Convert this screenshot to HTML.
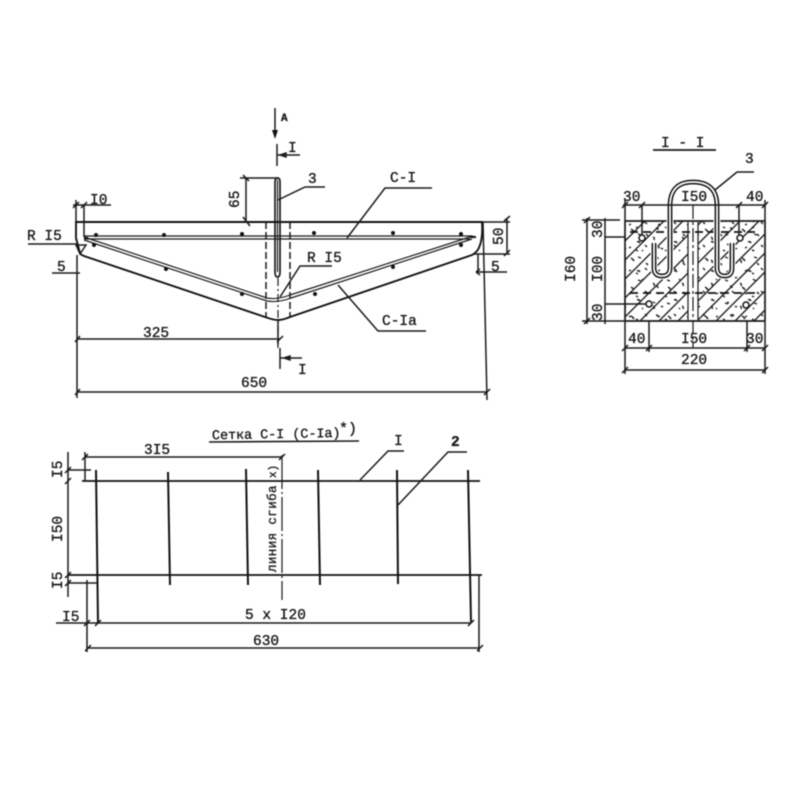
<!DOCTYPE html>
<html><head><meta charset="utf-8"><style>
html,body{margin:0;padding:0;background:#fff}
svg{display:block;filter:blur(.4px)}
text{font-family:"Liberation Mono","DejaVu Sans Mono",monospace;font-size:14.500px;fill:#1a1a1a;stroke:#1a1a1a;stroke-width:.35px}
.l{fill:none;stroke:#1a1a1a;stroke-width:1.500}
.t{fill:none;stroke:#111;stroke-width:2.100}
.f{fill:none;stroke:#1a1a1a;stroke-width:1.200}
</style></head><body>
<svg width="800" height="800" viewBox="0 0 800 800" xmlns="http://www.w3.org/2000/svg">
<defs>
<pattern id="h" width="19" height="19" patternUnits="userSpaceOnUse" patternTransform="translate(626 221)">
<path d="M-2 21L21 -2M-2 2L2 -2M17 21L21 17" stroke="#222" stroke-width="1.400" fill="none"/>
</pattern>
<pattern id="s" width="37" height="29" patternUnits="userSpaceOnUse" patternTransform="translate(628 225)">
<path d="M3 4q2 1 3 3M18 9l2 2M28 3q2 0 2 2M9 17q2 -1 3 1M25 19l2 1M33 24q1 -1 2 0M14 25l1 1" stroke="#222" stroke-width="1.500" fill="none"/>
</pattern>
<pattern id="s2" width="29" height="23" patternUnits="userSpaceOnUse" patternTransform="translate(633 231)">
<path d="M5 3l3 1M20 6q2 1 1 3M12 14l2 2M25 17l2 -1M3 19l2 1" stroke="#222" stroke-width="1.400" fill="none"/>
</pattern>
<clipPath id="c"><rect x="625" y="221" width="140" height="100"/></clipPath>
</defs>

<!-- Elevation beam -->
<path class="t" d="M76 222H482Q483 236 480 245Q478 252 472 255L290 317Q283 320 278 320Q274 320 268 318L84 256Q81 255 80 253L76 238Z" style="stroke-width:1.900"/>
<path class="f" d="M84 236H472M84 239H470"/>
<path class="f" d="M84 237L267 298Q277 300 290 295L473 236M84 240L267 301Q278 303 291 298L472 239"/>
<path class="t" d="M84 238H88" />
<path class="t" d="M470 237H476" />
<path d="M266 222V317M290 222V317" class="l" stroke-dasharray="7 3"/>
<path class="f" d="M275 182Q275 178 277.500 178Q280 178 280 182V272Q280 277 277.500 277Q275 277 275 272Z" style="stroke-width:1.700"/>
<path class="f" d="M277.500 180V272"/>
<path d="M278 278V348" class="f" stroke-dasharray="8 3 2 3"/>
<g fill="#111">
<circle cx="96" cy="235" r="2"/><circle cx="164" cy="235" r="2"/><circle cx="242" cy="234" r="2"/><circle cx="314" cy="233" r="2"/><circle cx="393" cy="233" r="2"/><circle cx="461" cy="234" r="2"/>
<circle cx="94" cy="245" r="2"/><circle cx="166" cy="269" r="2"/><circle cx="242" cy="294" r="2"/><circle cx="315" cy="294" r="2"/><circle cx="393" cy="267" r="2"/><circle cx="461" cy="245" r="2"/>
</g>

<!-- Elevation dimensions -->
<path class="l" d="M275 108V136"/><path d="M272 130L275 139L278 130Z" fill="#111"/>
<path class="l" d="M277 144V166M277 155H300M280 155l6 -2v4z"/>
<path class="l" d="M280 348V369M280 358H302M284 358l6 -2v4z"/>
<path class="l" d="M240 178H278M246 178V222M243 217L250 226M243 175L249 181"/>
<path class="l" d="M73 205H111M76 200V240M84 205V237M73 208L79 202M81 208L87 202"/>
<path class="l" d="M28 244H76L80 253M76 245H86L80 254Z"/>
<path class="l" d="M52 273H80M77 255V398"/>
<path class="l" d="M75 342L80 336M75 395L80 389M277 342L283 336M484 395L490 389"/>
<path class="l" d="M77 339H280M77 392H487M278 320V345M483 222L487 400"/>
<path class="l" d="M483 222H510M473 254H510M507 218V254M504 221L510 216M504 256L510 250"/>
<path class="l" d="M478 254V272M476 272H507M476 272l4 -3M476 272l4 3"/>
<path class="l" d="M278 200L305 187H325"/>
<path class="l" d="M347 238L385 188H432"/>
<path class="l" d="M338 285L378 331H426"/>
<path class="l" d="M280 297L300 266H332"/>
<text x="281" y="121" style="font-size:11px;font-weight:bold">A</text>
<text x="288" y="152">I</text>
<text x="298" y="374">I</text>
<text x="90" y="204">I0</text>
<text x="27" y="240">R I5</text>
<text x="57" y="271">5</text>
<text transform="translate(239 208) rotate(-90)">65</text>
<text x="308" y="183">3</text>
<text x="390" y="182">C-I</text>
<text x="307" y="262">R I5</text>
<text x="382" y="325">C-Ia</text>
<text transform="translate(503 245) rotate(-90)">50</text>
<text x="491" y="271">5</text>
<text x="143" y="337">325</text>
<text x="241" y="387">650</text>

<!-- Section I-I -->
<text x="661" y="147">I - I</text>
<path class="l" d="M653 150H716" style="stroke-width:1.700"/>
<rect x="625" y="221" width="140" height="100" fill="url(#h)"/>
<rect x="625" y="221" width="140" height="100" fill="url(#s)"/>
<rect x="625" y="221" width="140" height="100" fill="url(#s2)"/>
<rect x="688" y="221" width="10" height="100" fill="#fff"/>
<path class="l" d="M625 221H765M625 321H765M625 221V321M765 221V321" style="stroke-width:1.700"/>
<path class="l" d="M688 222V320M698 222V320" style="stroke-width:1.200"/>
<path class="f" d="M693 205V348" stroke-dasharray="14 3 3 3"/>
<g clip-path="url(#c)"><path d="M630 232H757M630 293H757" stroke="#111" stroke-width="1.700" stroke-dasharray="8 5" fill="none"/></g>
<path d="M654 243V268Q654 276 662 276Q670 276 670 268V206Q670 182 693 182Q717 182 717 206V268Q717 276 725 276Q732 276 732 268V243" fill="none" stroke="#fff" stroke-width="7"/>
<path d="M654 243V268Q654 276 662 276Q670 276 670 268V206Q670 182 693 182Q717 182 717 206V268Q717 276 725 276Q732 276 732 268V243" fill="none" stroke="#111" stroke-width="4.800"/>
<path d="M654 243V268Q654 276 662 276Q670 276 670 268V206Q670 182 693 182Q717 182 717 206V268Q717 276 725 276Q732 276 732 268V243" fill="none" stroke="#fff" stroke-width="1.800"/>
<g fill="#fff" stroke="#111" stroke-width="1.500">
<circle cx="642" cy="238" r="3"/><circle cx="740" cy="238" r="3"/><circle cx="649" cy="304" r="3"/><circle cx="746" cy="305" r="3"/>
</g>
<path class="l" d="M715 190L737 172H754"/>
<path class="l" d="M623 205H765M625 200V221M642 205V235M739 205V235M765 200V221"/>
<path class="l" d="M582 220H620M582 321H625M587 218V324M605 218V324M605 237H625M605 304H646"/>
<path class="l" d="M625 321V374M649 321V352M747 321V352M765 321V374M625 348H765M625 370H765"/>
<path class="l" d="M622 208L628 202M639 208L645 202M736 208L742 202M762 208L768 202M584 223L590 217M584 324L590 318M622 351L628 345M646 351L652 345M744 351L750 345M762 351L768 345M622 373L628 367M762 373L768 367"/>
<text x="745" y="163">3</text>
<text x="623" y="201">30</text>
<text x="681" y="201">I50</text>
<text x="746" y="201">40</text>
<text transform="translate(575 282) rotate(-90)">I60</text>
<text transform="translate(602 238) rotate(-90)">30</text>
<text transform="translate(602 282) rotate(-90)">I00</text>
<text transform="translate(602 321) rotate(-90)">30</text>
<text x="628" y="343">40</text>
<text x="681" y="343">I50</text>
<text x="746" y="343">30</text>
<text x="681" y="364">220</text>

<!-- Mesh -->
<text x="212" y="438" transform="rotate(-1 285 437)" style="font-size:13.400px">Сетка С-I (С-Iа)</text>
<text x="339" y="433" style="font-size:15px">*)</text>
<path class="l" d="M209 442L359 441" style="stroke-width:1.600"/>
<path class="t" d="M82 481H480M68 575H482" style="stroke-width:1.800"/>
<path class="t" d="M96 470L98 623M168 472L170 585M246 469L248 585M318 470L320 585M397 470L398 584M468 470L471 622" style="stroke-width:2"/>
<path class="f" d="M282 455V600" stroke-dasharray="34 3 2 3"/>
<path class="l" d="M85 457H282M85 452V481M82 460L88 454M279 460L285 454"/>
<path class="l" d="M68 452V597M67 470H91M68 583H97M65 484L71 478M65 578L71 572M65 473L71 467M65 586L71 580"/>
<path class="l" d="M56 623H471M87 580V652M88 648H480M479 575V652M85 651L91 645M477 651L483 645M468 626L474 620M84 626L90 620M95 626L101 620"/>
<path class="l" d="M360 480L388 451H404"/>
<path class="l" d="M398 505L448 452H467"/>
<text x="394" y="445">I</text>
<text x="451" y="446" style="font-weight:bold">2</text>
<text x="144" y="454">3I5</text>
<text transform="translate(62 478) rotate(-90)">I5</text>
<text transform="translate(62 542) rotate(-90)">I50</text>
<text transform="translate(62 589) rotate(-90)">I5</text>
<text x="62" y="621">I5</text>
<text x="245" y="619">5 x I20</text>
<text x="253" y="645">630</text>
<text transform="translate(276 572) rotate(-90)" style="font-size:12.500px;letter-spacing:.4px">линия сгиба</text>
<text transform="translate(276 478) rotate(-90)" style="font-size:11px">x)</text>
</svg>
</body></html>
